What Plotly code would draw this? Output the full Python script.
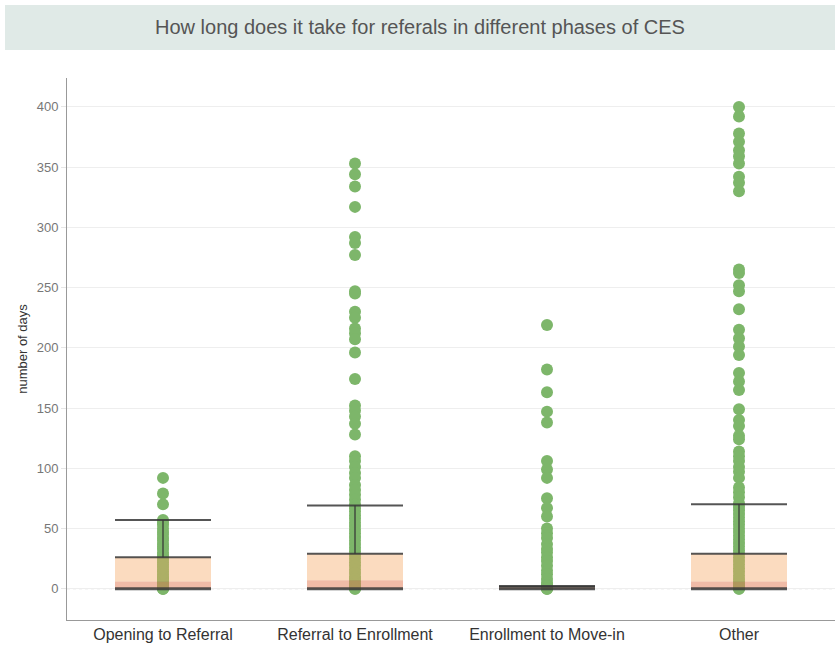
import plotly.graph_objects as go

# Phases of the coordinated entry process
categories = ["Opening to Referral", "Referral to Enrollment", "Enrollment to Move-in", "Other"]

# Days per referral in each phase
opening_to_referral = [92, 79, 70, 57, 55, 53, 50, 47, 45, 42, 40, 37, 35, 33, 30, 28, 26, 24,
                       22, 20, 18, 16, 14, 12, 10, 9, 8, 7, 6, 5, 4, 3, 2, 2, 1, 1, 0, 0, 0]
referral_to_enrollment = [353, 344, 334, 317, 292, 287, 277, 247, 245, 230, 225, 216, 212, 207,
                          196, 174, 152, 148, 143, 137, 128, 110, 106, 101, 96, 92, 86, 82, 78,
                          74, 70, 67, 64, 61, 58, 55, 52, 49, 46, 43, 40, 37, 34, 31, 28, 25, 22,
                          19, 16, 13, 10, 8, 6, 4, 2, 1, 0, 0]
enrollment_to_move_in = [219, 182, 163, 147, 138, 106, 99, 92, 75, 67, 60, 50, 46, 42, 37, 33,
                         30, 26, 23, 19, 15, 12, 8, 5, 3, 2, 1, 1, 0, 0, 0]
other = [400, 392, 378, 371, 364, 359, 353, 342, 337, 330, 265, 262, 252, 247, 232, 215, 208,
         201, 194, 179, 172, 165, 149, 140, 135, 127, 124, 114, 110, 106, 101, 97, 92, 84, 80,
         76, 71, 68, 65, 62, 59, 56, 53, 50, 47, 44, 41, 38, 35, 32, 29, 26, 23, 20, 17, 14,
         11, 8, 6, 4, 2, 1, 0, 0]
series = [opening_to_referral, referral_to_enrollment, enrollment_to_move_in, other]

# Box summary per phase
q1 = [0, 0, 0, 0]
median = [6, 7, 1, 6]
q3 = [26, 29, 2, 29]
upper_whisker = [57, 69, 2, 70]

y_ticks = [0, 50, 100, 150, 200, 250, 300, 350, 400]

HALF = 0.25
POINT_GREEN = "#7db66a"
LINE_GREY = "rgba(55,55,55,0.85)"
FONT = "Arial, Liberation Sans, sans-serif"

fig = go.Figure()

# individual referrals
for i, vals in enumerate(series):
    fig.add_trace(go.Scatter(
        x=[i] * len(vals), y=vals, mode="markers",
        marker=dict(size=12, color=POINT_GREEN, line=dict(width=0)),
        hoverinfo="y", showlegend=False,
    ))

# box bodies drawn over the points
for i in range(len(categories)):
    xs = [i - HALF, i + HALF, i + HALF, i - HALF, i - HALF]
    fig.add_trace(go.Scatter(
        x=xs, y=[q1[i], q1[i], median[i], median[i], q1[i]],
        fill="toself", fillcolor="rgba(225,120,80,0.5)", mode="none",
        hoverinfo="skip", showlegend=False,
    ))
    fig.add_trace(go.Scatter(
        x=xs, y=[median[i], median[i], q3[i], q3[i], median[i]],
        fill="toself", fillcolor="rgba(244,164,96,0.4)", mode="none",
        hoverinfo="skip", showlegend=False,
    ))

# whiskers and box edges
for i in range(len(categories)):
    for level, width in ((upper_whisker[i], 2), (q3[i], 2), (q1[i], 3)):
        fig.add_trace(go.Scatter(
            x=[i - HALF, i + HALF], y=[level, level], mode="lines",
            line=dict(color=LINE_GREY, width=width),
            hoverinfo="skip", showlegend=False,
        ))
    fig.add_trace(go.Scatter(
        x=[i, i], y=[q3[i], upper_whisker[i]], mode="lines",
        line=dict(color=LINE_GREY, width=1.5),
        hoverinfo="skip", showlegend=False,
    ))

# dotted zero line
fig.add_shape(type="line", xref="paper", x0=0, x1=1, yref="y", y0=0, y1=0,
              line=dict(color="#c8c8c8", width=1, dash="dot"), layer="below")

# title banner
fig.add_shape(type="rect", xref="paper", yref="paper",
              x0=-0.0807, x1=1.0, y0=1.0517, y1=1.1347,
              fillcolor="#e0eae7", line=dict(width=0), layer="below")
fig.add_annotation(
    text="How long does it take for referals in different phases of CES",
    xref="paper", yref="paper", x=0.459, y=1.0932, xanchor="center", yanchor="middle",
    showarrow=False, font=dict(family=FONT, size=20, color="#555555"),
)

fig.update_layout(
    width=835, height=645,
    margin=dict(l=67, r=0, t=78, b=25, autoexpand=False),
    paper_bgcolor="white", plot_bgcolor="white",
    font=dict(family=FONT),
    xaxis=dict(
        range=[-0.5, 3.5], tickmode="array", tickvals=list(range(len(categories))),
        ticktext=categories, showgrid=False, zeroline=False,
        showline=True, linecolor="#999999", linewidth=1,
        tickfont=dict(size=16, color="#333333"), ticks="",
        automargin=False,
    ),
    yaxis=dict(
        range=[-26, 424], tickmode="array", tickvals=y_ticks,
        showgrid=True, gridcolor="#eeeeee", gridwidth=1, zeroline=False,
        showline=True, linecolor="#999999", linewidth=1,
        ticks="outside", ticklen=5, tickcolor="#e6e6e6",
        tickfont=dict(size=13, color="#777777"),
        title=dict(text="number of days", font=dict(size=13, color="#333333"), standoff=6),
        automargin=False,
    ),
)

fig.write_html("out.html")
